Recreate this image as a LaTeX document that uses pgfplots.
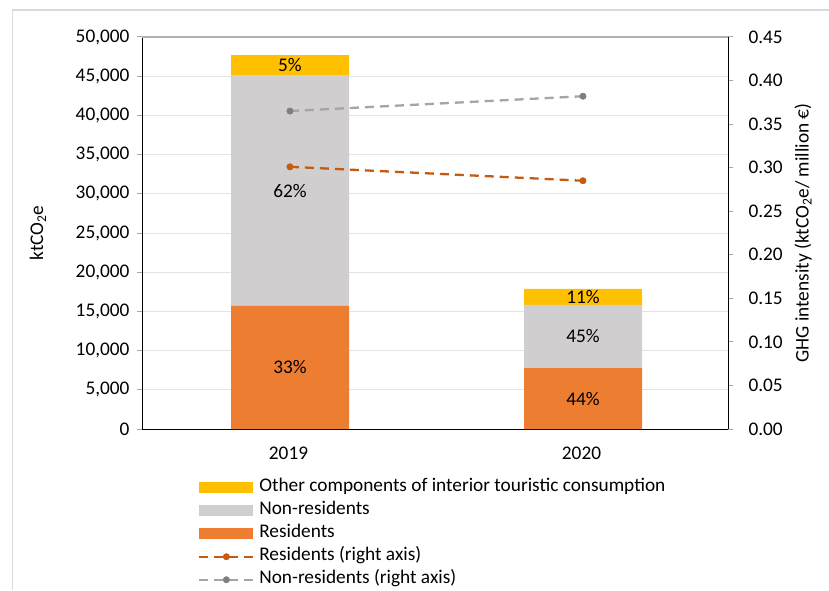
\documentclass[border=0pt]{standalone}
\usepackage{fontspec}
\setmainfont{Carlito}
\usepackage{pgfplots}
\pgfplotsset{compat=1.18}
\definecolor{cRes}{HTML}{ED7D31}
\definecolor{cNon}{HTML}{D0CECE}
\definecolor{cOth}{HTML}{FFC000}
\definecolor{cResL}{HTML}{C55A11}
\definecolor{cNonL}{HTML}{A5A5A5}
\definecolor{cNonM}{HTML}{7F7F7F}
\definecolor{cGrid}{HTML}{E3E3E3}
\definecolor{cFrame}{HTML}{D9D9D9}
\pgfplotsset{
  barlegend/.style={legend image code/.code={\fill[##1,draw=none] (0pt,-5.5pt) rectangle (54pt,5.5pt);}},
  linelegend/.style={legend image code/.code={\draw[mark repeat=2,mark phase=2,##1] plot coordinates {(0pt,0pt) (27pt,0pt) (54pt,0pt)};}},
}
\begin{document}
\begin{tikzpicture}[font=\fontsize{19.3}{23}\selectfont]
\path[use as bounding box] (0pt,0pt) rectangle (829pt,590pt);
\draw[cFrame, line width=1.5pt] (12.5pt,0pt) -- (12.5pt,580pt) -- (829pt,580pt);

\begin{axis}[
  at={(142pt,161pt)}, anchor=south west,
  scale only axis, width=586pt, height=392pt,
  xmin=-0.5, xmax=1.5, ymin=0, ymax=50000,
  ybar stacked, bar width=118pt, bar shift=1.5pt,
  xtick={0,1}, xticklabels={2019,2020},
  ytick distance=5000,
  scaled y ticks=false,
  /pgf/number format/assume math mode=true,
  yticklabel style={xshift=-4pt, /pgf/number format/.cd, fixed, 1000 sep={,}},
  axis x line*=bottom, axis y line*=left,
  axis line style={black, line width=1pt},
  tick align=outside, major tick length=5pt,
  ytick style={color=gray!70, line width=1pt},
  xtick style={draw=none},
  ymajorgrids, grid style={cGrid, line width=1pt},
  extra y ticks={50000}, extra y tick labels={},
  extra y tick style={grid style={gray!60, line width=1.2pt}, major tick length=0pt},
  ylabel={ktCO\textsubscript{2}e},
  every axis y label/.style={at={(axis description cs:-0.1775,0.5)}, rotate=90, anchor=center},
  xticklabel style={yshift=-9pt},
]
\addplot[fill=cRes, draw=none] coordinates {(0,15700) (1,7780)};
\addplot[fill=cNon, draw=none] coordinates {(0,29450) (1,8040)};
\addplot[fill=cOth, draw=none] coordinates {(0,2550) (1,2040)};
\end{axis}

\begin{axis}[
  at={(142pt,161pt)}, anchor=south west,
  scale only axis, width=586pt, height=392pt,
  xmin=-0.5, xmax=1.5, ymin=0, ymax=0.45,
  axis x line=none, axis y line*=right,
  axis line style={black, line width=1pt},
  ytick={0,0.05,0.1,0.15,0.2,0.25,0.3,0.35,0.4,0.45},
  /pgf/number format/assume math mode=true,
  yticklabel style={xshift=12pt, /pgf/number format/.cd, fixed, fixed zerofill, precision=2},
  scaled y ticks=false,
  tick align=outside, major tick length=5pt,
  ytick style={color=gray!70, line width=1pt},
  ylabel={GHG intensity (ktCO\textsubscript{2}e/ million €)},
  every axis y label/.style={at={(axis description cs:1.128,0.5)}, rotate=90, anchor=center},
  legend style={at={(axis description cs:0.0956,-0.12)}, anchor=north west, draw=none, fill=none,
    inner sep=0pt, row sep=0pt, column sep=0pt,
    nodes={inner xsep=4.8pt, inner ysep=0pt, text height=15pt, text depth=8pt}},
  legend cell align=left,
]
% percentage labels (left-axis values scaled by 0.45/50000)
\node at (axis cs:0.005,0.07065) {33\%};
\node at (axis cs:0.005,0.2736) {62\%};
\node at (axis cs:0.005,0.41778) {5\%};
\node at (axis cs:1.005,0.03501) {44\%};
\node at (axis cs:1.005,0.1062) {45\%};
\node at (axis cs:1.005,0.15156) {11\%};
\addlegendimage{barlegend, fill=cOth}
\addlegendentry{Other components of interior touristic consumption}
\addlegendimage{barlegend, fill=cNon}
\addlegendentry{Non-residents}
\addlegendimage{barlegend, fill=cRes}
\addlegendentry{Residents}
\addplot[linelegend, cResL, line width=2.3pt, dash pattern=on 9pt off 6pt, mark=*, mark size=3.2pt, mark options={solid, fill=cResL, draw=cResL, line width=0.5pt}] coordinates {(0.005,0.301) (1.005,0.285)};
\addlegendentry{Residents (right axis)}
\addplot[linelegend, cNonL, line width=2.3pt, dash pattern=on 9pt off 6pt, mark=*, mark size=3.2pt, mark options={solid, fill=cNonM, draw=cNonM, line width=0.5pt}] coordinates {(0.005,0.365) (1.005,0.382)};
\addlegendentry{Non-residents (right axis)}
\end{axis}
\end{tikzpicture}
\end{document}
